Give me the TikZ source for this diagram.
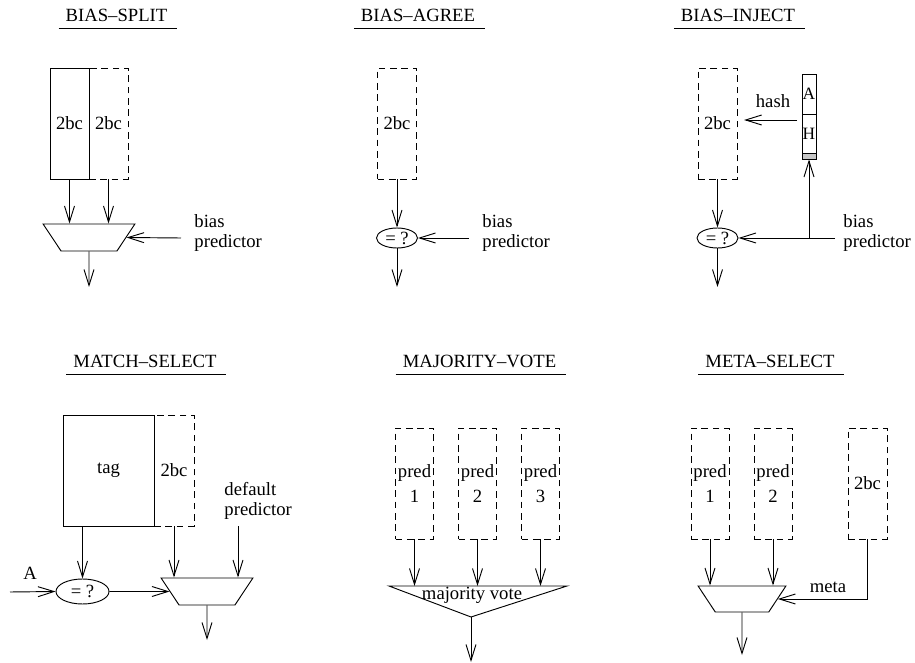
\documentclass[tikz,border=0pt]{standalone}
\usepackage{fontspec}
\setmainfont{Liberation Serif}
\usetikzlibrary{arrows.meta,shapes.geometric}
\tikzset{
  arr/.style={-{Straight Barb[length=12pt,width=7.5pt]}},
  regbox/.style={draw, minimum width=29.25pt, minimum height=83.25pt, inner sep=0pt},
  dashbox/.style={regbox, dash pattern=on 5pt off 3.5pt},
  cmp/.style={draw, ellipse, minimum width=30.75pt, minimum height=15pt, inner sep=0pt},
  mux/.style={draw, trapezium, shape border rotate=180, trapezium angle=55,
    trapezium stretches=true, minimum width=69pt, minimum height=20.25pt, inner sep=0pt},
  hashcell/.style={draw, minimum width=10.5pt, inner sep=0pt, font=\fontsize{13}{14}\selectfont},
  lbl/.style={align=left, anchor=north west, inner sep=0pt},
  ttl/.style={anchor=base, inner sep=0pt},
}
\begin{document}
\begin{tikzpicture}[x=0.75pt, y=-0.75pt, line width=0.7pt,
  font=\fontsize{14}{15}\selectfont]
  \useasboundingbox (0,0) rectangle (915,663);
  % titles
  \foreach \nm/\px/\py/\txt in {t1/116.5/22/BIAS--SPLIT, t2/418/22/BIAS--AGREE,
      t3/738/22/BIAS--INJECT, t4/145/368/MATCH--SELECT,
      t5/479.5/368/MAJORITY--VOTE, t6/770/368/META--SELECT}{
    \node[ttl] (\nm) at (\px,\py) {\txt};
    \draw ([shift={(-5pt,-4.5pt)}]\nm.base west) -- ([shift={(7pt,-4.5pt)}]\nm.base east);
  }
  % bias-split
  \node[dashbox] (sd) at (108.5,123.5) {2bc};
  \node[regbox] (ss) at (69.5,123.5) {2bc};
  \node[mux] (smux) at (89,237.5) {\phantom{xx}};
  \coordinate (sbias) at (181,238);
  \coordinate (sout) at (89,287);
  \node[lbl] (sbl) at (194,214) {bias\\predictor};
  \draw[arr] (ss.south) -- (ss.south |- smux.north);
  \draw[arr] (sd.south) -- (sd.south |- smux.north);
  \draw[arr] (sbias) -- (smux.east);
  \draw[arr] (smux.south) -- (sout);
  % bias-agree
  \node[dashbox] (ad) at (397,123.5) {2bc};
  \node[cmp] (acmp) at (397,238) {= ?};
  \coordinate (abias) at (469,238);
  \coordinate (aout) at (397,287);
  \node[lbl] (abl) at (482,214) {bias\\predictor};
  \draw[arr] (ad.south) -- (acmp.north);
  \draw[arr] (abias) -- (acmp.east);
  \draw[arr] (acmp.south) -- (aout);
  % bias-inject
  \node[dashbox] (id) at (717.5,123.5) {2bc};
  \node[cmp] (icmp) at (717.5,238) {= ?};
  \node[hashcell, minimum height=30pt] (ha) at (809,94) {A};
  \node[hashcell, minimum height=29.25pt] (hh) at (809,133.5) {H};
  \node[hashcell, fill=gray!45, minimum height=4.5pt] (hg) at (809,156) {};
  \node (hlab) at (773,101) {hash};
  \coordinate (hout) at (797,120);
  \coordinate (ibias) at (835,238);
  \coordinate (isplit) at (809,238);
  \coordinate (iout) at (717.5,287);
  \node[lbl] (ibl) at (843,214) {bias\\predictor};
  \draw[arr, shorten >=5pt] (hout) -- (id.east |- hout);
  \draw[arr] (id.south) -- (icmp.north);
  \draw[arr] (ibias) -- (icmp.east);
  \draw[arr] (isplit) -- (hg.south);
  \draw[arr] (icmp.south) -- (iout);
  % match-select
  \node[dashbox, minimum width=30pt] (md) at (174,470.5) {2bc};
  \node[regbox, minimum width=68.25pt] (mt) at (108.5,470.5) {tag};
  \node[cmp, minimum width=39.75pt, minimum height=18.75pt] (mcmp) at (82.5,591.5) {= ?};
  \node[mux] (mmux) at (207,591.5) {\phantom{xx}};
  \node (mA) at (30,573) {A};
  \coordinate (min) at (10,592);
  \coordinate (mdef) at (238,526);
  \coordinate (mout) at (207,640);
  \node[lbl] (mdl) at (224,482) {default\\predictor};
  \draw[arr] (mcmp.north |- mt.south) -- (mcmp.north);
  \draw[arr] (md.south) -- (md.south |- mmux.north);
  \draw[arr] (mdef) -- (mdef |- mmux.north);
  \draw[arr] (min) -- (mcmp.west);
  \draw[arr] (mcmp.east) -- (mmux.west);
  \draw[arr] (mmux.south) -- (mout);
  % majority-vote
  \foreach \i/\px in {1/414.5,2/477.5,3/540.5}{
    \node[dashbox, minimum width=28.5pt, align=center] (vp\i) at (\px,483.5) {pred\\[4pt]\i};
  }
  \coordinate (vl) at (389,586);
  \coordinate (vr) at (567,586);
  \coordinate (vapex) at (471,617);
  \coordinate (vout) at (471,662);
  \draw (vl) -- (vr) -- (vapex) -- cycle;
  \node[ttl] (vlab) at (472,599) {majority vote};
  \foreach \i in {1,2,3}
    \draw[arr] (vp\i.south) -- (vp\i.south |- vl);
  \draw[arr] (vapex) -- (vout);
  % meta-select
  \foreach \i/\px in {1/710,2/773}{
    \node[dashbox, minimum width=28.5pt, align=center] (ep\i) at (\px,483.5) {pred\\[4pt]\i};
  }
  \node[dashbox] (eb) at (867.5,483.5) {2bc};
  \node[mux, minimum width=66pt, minimum height=19.5pt] (emux) at (742,599) {\phantom{xx}};
  \node (elab) at (828,587) {meta};
  \coordinate (eout) at (742,655);
  \foreach \i in {1,2}
    \draw[arr] (ep\i.south) -- (ep\i.south |- emux.north);
  \draw[arr] (eb.south) -- (eb.south |- emux.east) -- (emux.east);
  \draw[arr] (emux.south) -- (eout);
\end{tikzpicture}
\end{document}
